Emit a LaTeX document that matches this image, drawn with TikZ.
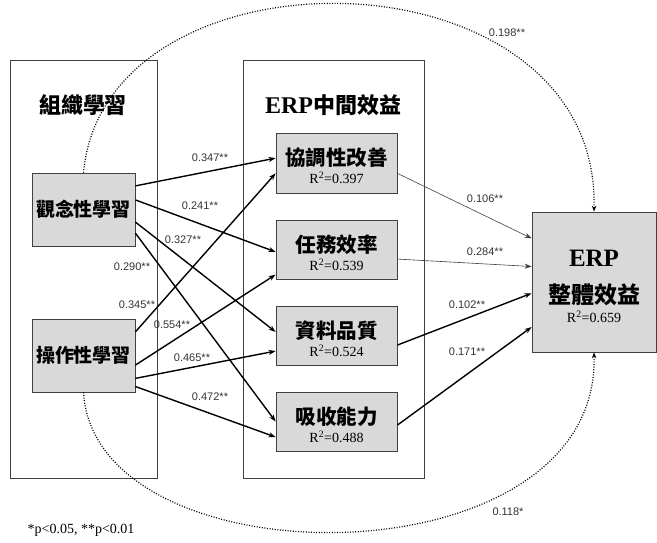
\documentclass[tikz,border=0pt]{standalone}
\usepackage{fontspec}
\setmainfont{Liberation Serif}
\newfontfamily\cjk{Noto Sans CJK TC}
\newfontfamily\lblfont{Liberation Sans}
\usetikzlibrary{arrows.meta,calc}
\definecolor{boxgray}{HTML}{D9D9D9}
\definecolor{edgegray}{HTML}{404040}
\tikzset{
  outerbox/.style={draw=edgegray,line width=0.7pt,inner sep=0pt},
  graybox/.style={draw=edgegray,fill=boxgray,line width=0.8pt,inner sep=0pt},
  boxtitle/.style={font=\cjk\fontsize{19}{21}\selectfont\bfseries,inner sep=0pt},
  midtitle/.style={font=\cjk\fontsize{20.5}{22}\selectfont\bfseries,inner sep=0pt},
  grouptitle/.style={font=\cjk\fontsize{22}{24}\selectfont\bfseries,inner sep=0pt},
  rsq/.style={font=\fontsize{14}{16}\selectfont,inner sep=0pt},
  coef/.style={font=\lblfont\fontsize{11}{12}\selectfont,text=black!80,inner sep=1pt},
  thickarrow/.style={line width=1.4pt,-{Stealth[length=7pt,width=5pt]}},
  thinarrow/.style={line width=0.6pt,draw=black!75,-{Stealth[length=7pt,width=5pt]}},
  dotarrow/.style={line width=1.2pt,dash pattern=on 1pt off 1.6pt,-{Stealth[length=6pt,width=4.5pt]}},
}
\begin{document}
\begin{tikzpicture}[x=1pt,y=-1pt]
\useasboundingbox (0,0) rectangle (657,542);
% group boxes
\node[outerbox,minimum width=147pt,minimum height=418pt] (org) at (83.5,269) {};
\node[outerbox,minimum width=181pt,minimum height=418pt] (mid) at (333.5,269) {};
\node[grouptitle] (orgt) at (83,105) {組織學習};
\node[grouptitle] (midt) at (333,105) {{\fontspec{Liberation Serif}\bfseries\fontsize{24}{26}\selectfont ERP}中間效益};
% left boxes
\node[graybox,minimum width=103pt,minimum height=73pt] (a) at (83.5,209.5) {};
\node[boxtitle] at (a.center) {觀念性學習};
\node[graybox,minimum width=103pt,minimum height=73pt] (b) at (83.5,355.5) {};
\node[boxtitle] at (b.center) {操作性學習};
% middle boxes
\node[graybox,minimum width=121pt,minimum height=60pt] (m1) at (336.5,163) {};
\node[midtitle] at ([yshift=5pt]m1.center) {協調性改善};
\node[rsq] at ([yshift=-15pt]m1.center) {R\textsuperscript{2}=0.397};
\node[graybox,minimum width=121pt,minimum height=59pt] (m2) at (336.5,249.5) {};
\node[midtitle] at ([yshift=5pt]m2.center) {任務效率};
\node[rsq] at ([yshift=-15pt]m2.center) {R\textsuperscript{2}=0.539};
\node[graybox,minimum width=121pt,minimum height=59pt] (m3) at (336.5,335.5) {};
\node[midtitle] at ([yshift=5pt]m3.center) {資料品質};
\node[rsq] at ([yshift=-15pt]m3.center) {R\textsuperscript{2}=0.524};
\node[graybox,minimum width=121pt,minimum height=59pt] (m4) at (336.5,421.5) {};
\node[midtitle] at ([yshift=5pt]m4.center) {吸收能力};
\node[rsq] at ([yshift=-15pt]m4.center) {R\textsuperscript{2}=0.488};
% outcome box
\node[graybox,minimum width=124pt,minimum height=140pt] (e) at (594,282) {};
\node[inner sep=0pt,font=\bfseries\fontsize{25}{27}\selectfont] at ([yshift=24pt]e.center) {ERP};
\node[grouptitle,font=\cjk\fontsize{23}{25}\selectfont\bfseries] at ([yshift=-13pt]e.center) {整體效益};
\node[rsq] at ([yshift=-35pt]e.center) {R\textsuperscript{2}=0.659};
% arrows from a
\draw[thickarrow] ($(a.north east)!0.18!(a.south east)$) -- ($(m1.north west)!0.42!(m1.south west)$);
\draw[thickarrow] ($(a.north east)!0.37!(a.south east)$) -- ($(m2.north west)!0.54!(m2.south west)$);
\draw[thickarrow] ($(a.north east)!0.67!(a.south east)$) -- ($(m3.north west)!0.44!(m3.south west)$);
\draw[thickarrow] ($(a.north east)!0.82!(a.south east)$) -- ($(m4.north west)!0.5!(m4.south west)$);
% arrows from b
\draw[thickarrow] ($(b.north east)!0.18!(b.south east)$) -- ($(m1.north west)!0.67!(m1.south west)$);
\draw[thickarrow] ($(b.north east)!0.63!(b.south east)$) -- ($(m2.north west)!0.92!(m2.south west)$);
\draw[thickarrow] ($(b.north east)!0.81!(b.south east)$) -- ($(m3.north west)!0.76!(m3.south west)$);
\draw[thickarrow] ($(b.north east)!0.92!(b.south east)$) -- ($(m4.north west)!0.76!(m4.south west)$);
% arrows to e
\draw[thinarrow] ($(m1.north east)!0.67!(m1.south east)$) -- ($(e.north west)!0.19!(e.south west)$);
\draw[thinarrow] ($(m2.north east)!0.66!(m2.south east)$) -- ($(e.north west)!0.39!(e.south west)$);
\draw[thickarrow] ($(m3.north east)!0.66!(m3.south east)$) -- ($(e.north west)!0.58!(e.south west)$);
\draw[thickarrow] ($(m4.north east)!0.56!(m4.south east)$) -- ($(e.north west)!0.82!(e.south west)$);
% dotted direct effects
\draw[dotarrow] (a.north) .. controls (105,-62) and (600,-55) .. (e.north);
\draw[dotarrow] (b.south) .. controls (95,585) and (600,585) .. (e.south);
% coefficient labels
\node[coef] at (210,158) {0.347**};
\node[coef] at (200,206) {0.241**};
\node[coef] at (183,240) {0.327**};
\node[coef] at (132,267) {0.290**};
\node[coef] at (137,305) {0.345**};
\node[coef] at (172,325) {0.554**};
\node[coef] at (192,358) {0.465**};
\node[coef] at (210,397) {0.472**};
\node[coef] at (485,199) {0.106**};
\node[coef] at (485,252) {0.284**};
\node[coef] at (467,305) {0.102**};
\node[coef] at (467,352) {0.171**};
\node[coef] at (507,33) {0.198**};
\node[coef] at (508,512) {0.118*};
\node[inner sep=0pt,font=\fontsize{14}{16}\selectfont] (note) at (81,530) {*p<0.05, **p<0.01};
\end{tikzpicture}
\end{document}
